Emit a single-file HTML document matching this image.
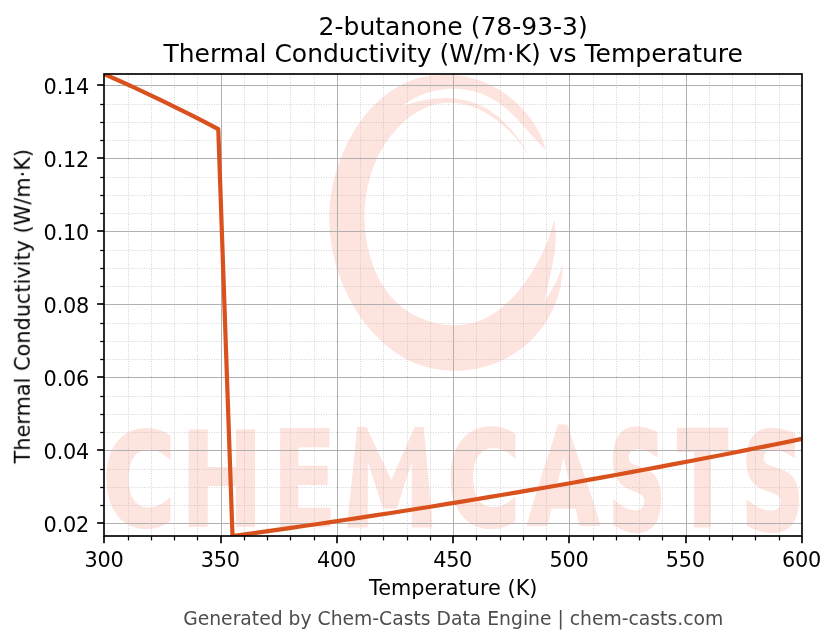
<!DOCTYPE html>
<html lang="en"><head><meta charset="utf-8"><title>2-butanone (78-93-3) Thermal Conductivity vs Temperature</title>
<style>html,body{margin:0;padding:0;background:#fff;overflow:hidden}svg{display:block}text{font-family:"DejaVu Sans","Liberation Sans",sans-serif;fill:#000}</style></head><body>
<svg width="836" height="644" viewBox="0 0 836 644">
<rect x="0" y="0" width="836" height="644" fill="#ffffff"/>
<defs><clipPath id="axclip"><rect x="104" y="74" width="698" height="462"/></clipPath></defs>
<g clip-path="url(#axclip)" fill="#fee4df" stroke="none">
<path d="M546.2,150.4 C545.1,147.5 542.2,138.6 539.5,133.1 C536.7,127.6 533.3,122.2 529.6,117.2 C525.8,112.2 521.5,107.5 516.9,103.2 C512.4,99.0 507.3,95.0 502.1,91.6 C496.9,88.2 491.3,85.2 485.5,82.8 C479.8,80.4 473.8,78.5 467.8,77.1 C461.7,75.8 455.5,75.0 449.4,74.7 C443.3,74.5 437.1,74.7 431.0,75.6 C425.0,76.4 419.0,77.8 413.4,79.8 C407.7,81.7 402.2,84.2 396.9,87.2 C391.7,90.2 386.8,93.8 382.1,97.7 C377.4,101.6 373.0,106.0 368.9,110.7 C364.8,115.3 361.0,120.4 357.5,125.6 C354.0,130.8 350.8,136.3 347.9,141.9 C345.1,147.5 342.5,153.4 340.3,159.2 C338.0,165.1 336.1,171.0 334.6,177.0 C333.0,182.9 331.8,189.0 330.9,195.1 C330.0,201.1 329.5,207.3 329.3,213.4 C329.2,219.6 329.3,225.8 329.9,232.0 C330.4,238.2 331.3,244.5 332.5,250.7 C333.7,256.9 335.3,263.1 337.2,269.2 C339.1,275.3 341.3,281.3 343.8,287.1 C346.4,293.0 349.2,298.7 352.3,304.2 C355.4,309.7 358.8,315.0 362.5,320.1 C366.2,325.1 370.1,329.9 374.4,334.3 C378.6,338.8 383.0,343.0 387.7,346.7 C392.4,350.5 397.4,353.9 402.5,356.9 C407.7,359.9 413.1,362.4 418.6,364.5 C424.2,366.5 430.1,368.1 436.0,369.1 C441.9,370.2 448.1,370.7 454.3,370.7 C460.4,370.7 466.7,370.2 472.8,369.2 C478.9,368.2 485.1,366.7 491.0,364.7 C496.9,362.7 502.8,360.2 508.2,357.2 C513.7,354.2 519.0,350.7 523.8,346.8 C528.7,342.9 533.2,338.4 537.2,333.6 C541.3,328.9 545.0,323.6 548.1,318.2 C551.3,312.8 554.0,307.0 556.2,301.2 C558.4,295.3 560.1,289.2 561.2,283.0 C562.3,276.9 562.6,267.6 562.9,264.5 C562.2,266.4 560.0,272.3 558.5,276.0 C557.0,279.7 555.9,282.5 553.6,286.8 C551.3,291.0 546.0,299.0 544.5,301.5 C544.9,299.6 546.1,293.9 546.9,290.0 C547.8,286.2 548.7,282.3 549.6,278.4 C550.5,274.5 551.4,270.6 552.2,266.6 C552.9,262.7 553.7,258.8 554.3,254.8 C554.8,250.9 555.3,247.0 555.5,243.1 C555.8,239.1 555.9,235.2 555.6,231.4 C555.4,227.5 554.4,221.7 554.2,219.8 C553.5,222.3 551.5,230.0 549.8,234.9 C548.1,239.9 546.2,244.9 544.0,249.7 C541.8,254.6 539.3,259.5 536.6,264.3 C533.9,269.0 531.0,273.9 527.8,278.5 C524.6,283.1 521.2,287.7 517.6,292.0 C513.9,296.3 510.0,300.4 505.9,304.1 C501.9,307.7 497.5,311.2 493.0,314.0 C488.5,316.8 483.7,319.3 478.8,321.1 C473.9,322.9 468.6,324.1 463.4,324.7 C458.2,325.3 452.7,325.4 447.4,324.9 C442.1,324.4 436.6,323.4 431.4,321.9 C426.3,320.4 421.1,318.4 416.3,316.0 C411.4,313.6 406.8,310.7 402.5,307.4 C398.3,304.2 394.4,300.5 390.9,296.5 C387.4,292.5 384.3,288.1 381.5,283.5 C378.8,278.9 376.4,273.9 374.3,268.9 C372.3,263.9 370.6,258.6 369.2,253.3 C367.7,248.0 366.7,242.5 365.9,237.1 C365.1,231.6 364.7,226.1 364.5,220.5 C364.4,215.0 364.5,209.5 365.0,204.0 C365.5,198.5 366.3,193.0 367.4,187.7 C368.5,182.3 369.9,177.0 371.6,171.8 C373.3,166.7 375.4,161.6 377.7,156.8 C380.1,151.9 382.7,147.2 385.7,142.7 C388.7,138.3 392.0,134.0 395.6,130.0 C399.2,126.0 403.1,122.2 407.3,118.8 C411.5,115.5 416.0,112.4 420.7,110.0 C425.3,107.6 430.3,105.6 435.4,104.4 C440.4,103.2 445.8,102.7 451.1,102.8 C456.3,102.9 461.7,103.6 466.9,105.0 C472.1,106.4 477.3,108.4 482.2,110.9 C487.2,113.4 491.9,116.5 496.4,119.9 C500.9,123.3 505.2,127.2 509.2,131.1 C513.2,135.0 516.9,139.3 520.4,143.5 C523.8,147.7 528.1,154.1 529.7,156.2 C528.2,153.8 523.9,146.4 520.6,141.8 C517.3,137.1 513.7,132.4 509.8,128.2 C506.0,124.0 501.9,119.9 497.5,116.3 C493.1,112.8 488.5,109.5 483.7,106.9 C478.8,104.4 473.6,102.3 468.3,100.9 C463.0,99.4 457.5,98.6 451.9,98.2 C446.3,97.9 440.5,98.1 434.8,98.6 C429.2,99.2 423.4,100.2 417.8,101.5 C412.2,102.8 404.0,105.6 401.3,106.4 C404.1,104.7 412.3,98.9 418.2,96.2 C424.0,93.6 430.2,91.6 436.4,90.4 C442.5,89.1 448.9,88.6 455.1,88.7 C461.3,88.9 467.6,89.7 473.6,91.3 C479.5,92.8 485.5,95.1 490.9,98.0 C496.4,100.9 501.5,104.7 506.4,108.8 C511.3,112.8 515.7,117.7 520.2,122.4 C524.7,127.1 528.8,132.3 533.2,137.0 C537.5,141.6 544.0,148.2 546.2,150.4 Z"/>
<clipPath id="wmclip"><rect x="100.0" y="400" width="247.0" height="140"/><polygon points="347,528 357.5,424 365,424 391.3,480 416,424 423.5,424 433,528"/><rect x="433.0" y="400" width="92.0" height="140"/><polygon points="525,528 558.2,424 567,424 602,528"/><rect x="602.0" y="400" width="208.0" height="140"/></clipPath>
<g clip-path="url(#wmclip)"><text font-weight="bold" style="fill:#fee4df"><tspan x="103.10" y="525.17" font-size="129.16" textLength="72.19" lengthAdjust="spacingAndGlyphs" stroke="#fee4df" stroke-width="4">C</tspan><tspan x="179.16" y="526.60" font-size="134.43" textLength="85.19" lengthAdjust="spacingAndGlyphs">H</tspan><tspan x="271.29" y="527.20" font-size="135.53" textLength="66.32" lengthAdjust="spacingAndGlyphs">E</tspan><tspan x="339.16" y="525.50" font-size="134.43" textLength="101.23" lengthAdjust="spacingAndGlyphs" stroke="#fee4df" stroke-width="3">M</tspan><tspan x="447.34" y="524.96" font-size="129.30" textLength="73.02" lengthAdjust="spacingAndGlyphs" stroke="#fee4df" stroke-width="4">C</tspan><tspan x="528.76" y="524.40" font-size="131.96" textLength="69.58" lengthAdjust="spacingAndGlyphs" stroke="#fee4df" stroke-width="5">A</tspan><tspan x="608.26" y="528.59" font-size="134.58" textLength="57.60" lengthAdjust="spacingAndGlyphs" stroke="#fee4df" stroke-width="4">S</tspan><tspan x="678.15" y="524.20" font-size="127.57" textLength="48.73" lengthAdjust="spacingAndGlyphs" stroke="#fee4df" stroke-width="6">T</tspan><tspan x="741.15" y="528.59" font-size="134.19" textLength="62.73" lengthAdjust="spacingAndGlyphs" stroke="#fee4df" stroke-width="4">S</tspan></text></g>
</g>
<g stroke="#b0b0b0" stroke-opacity="0.6" stroke-width="1" stroke-dasharray="0.94 1.55" fill="none">
<line x1="128.5" y1="536.3" x2="128.5" y2="74.0"/>
<line x1="151.5" y1="536.3" x2="151.5" y2="74.0"/>
<line x1="174.5" y1="536.3" x2="174.5" y2="74.0"/>
<line x1="197.5" y1="536.3" x2="197.5" y2="74.0"/>
<line x1="244.5" y1="536.3" x2="244.5" y2="74.0"/>
<line x1="267.5" y1="536.3" x2="267.5" y2="74.0"/>
<line x1="290.5" y1="536.3" x2="290.5" y2="74.0"/>
<line x1="314.5" y1="536.3" x2="314.5" y2="74.0"/>
<line x1="360.5" y1="536.3" x2="360.5" y2="74.0"/>
<line x1="383.5" y1="536.3" x2="383.5" y2="74.0"/>
<line x1="407.5" y1="536.3" x2="407.5" y2="74.0"/>
<line x1="430.5" y1="536.3" x2="430.5" y2="74.0"/>
<line x1="476.5" y1="536.3" x2="476.5" y2="74.0"/>
<line x1="500.5" y1="536.3" x2="500.5" y2="74.0"/>
<line x1="523.5" y1="536.3" x2="523.5" y2="74.0"/>
<line x1="546.5" y1="536.3" x2="546.5" y2="74.0"/>
<line x1="593.5" y1="536.3" x2="593.5" y2="74.0"/>
<line x1="616.5" y1="536.3" x2="616.5" y2="74.0"/>
<line x1="639.5" y1="536.3" x2="639.5" y2="74.0"/>
<line x1="662.5" y1="536.3" x2="662.5" y2="74.0"/>
<line x1="709.5" y1="536.3" x2="709.5" y2="74.0"/>
<line x1="732.5" y1="536.3" x2="732.5" y2="74.0"/>
<line x1="755.5" y1="536.3" x2="755.5" y2="74.0"/>
<line x1="779.5" y1="536.3" x2="779.5" y2="74.0"/>
<line x1="104.4" y1="505.5" x2="801.9" y2="505.5"/>
<line x1="104.4" y1="487.5" x2="801.9" y2="487.5"/>
<line x1="104.4" y1="469.5" x2="801.9" y2="469.5"/>
<line x1="104.4" y1="432.5" x2="801.9" y2="432.5"/>
<line x1="104.4" y1="414.5" x2="801.9" y2="414.5"/>
<line x1="104.4" y1="396.5" x2="801.9" y2="396.5"/>
<line x1="104.4" y1="359.5" x2="801.9" y2="359.5"/>
<line x1="104.4" y1="341.5" x2="801.9" y2="341.5"/>
<line x1="104.4" y1="323.5" x2="801.9" y2="323.5"/>
<line x1="104.4" y1="286.5" x2="801.9" y2="286.5"/>
<line x1="104.4" y1="268.5" x2="801.9" y2="268.5"/>
<line x1="104.4" y1="250.5" x2="801.9" y2="250.5"/>
<line x1="104.4" y1="213.5" x2="801.9" y2="213.5"/>
<line x1="104.4" y1="195.5" x2="801.9" y2="195.5"/>
<line x1="104.4" y1="177.5" x2="801.9" y2="177.5"/>
<line x1="104.4" y1="140.5" x2="801.9" y2="140.5"/>
<line x1="104.4" y1="122.5" x2="801.9" y2="122.5"/>
<line x1="104.4" y1="104.5" x2="801.9" y2="104.5"/>
</g>
<g shape-rendering="crispEdges" stroke="#b0b0b0" stroke-width="1" fill="none">
<line x1="221.5" y1="74.0" x2="221.5" y2="536.0"/>
<line x1="337.5" y1="74.0" x2="337.5" y2="536.0"/>
<line x1="453.5" y1="74.0" x2="453.5" y2="536.0"/>
<line x1="569.5" y1="74.0" x2="569.5" y2="536.0"/>
<line x1="686.5" y1="74.0" x2="686.5" y2="536.0"/>
<line x1="104.4" y1="523.5" x2="801.9" y2="523.5"/>
<line x1="104.4" y1="450.5" x2="801.9" y2="450.5"/>
<line x1="104.4" y1="377.5" x2="801.9" y2="377.5"/>
<line x1="104.4" y1="304.5" x2="801.9" y2="304.5"/>
<line x1="104.4" y1="231.5" x2="801.9" y2="231.5"/>
<line x1="104.4" y1="158.5" x2="801.9" y2="158.5"/>
<line x1="104.4" y1="85.5" x2="801.9" y2="85.5"/>
</g>
<path d="M104.40,74.25 L118.63,80.52 L132.87,86.96 L147.10,93.57 L161.34,100.35 L175.57,107.30 L189.81,114.43 L204.04,121.73 L218.28,129.19 L232.51,536.04 L246.75,534.09 L260.98,532.11 L275.22,530.11 L289.45,528.08 L303.69,526.03 L317.92,523.96 L332.16,521.86 L346.39,519.74 L360.62,517.59 L374.86,515.42 L389.09,513.22 L403.33,511.00 L417.56,508.76 L431.80,506.49 L446.03,504.19 L460.27,501.87 L474.50,499.53 L488.74,497.16 L502.97,494.77 L517.21,492.36 L531.44,489.92 L545.68,487.45 L559.91,484.96 L574.14,482.45 L588.38,479.91 L602.61,477.35 L616.85,474.76 L631.08,472.15 L645.32,469.52 L659.55,466.86 L673.79,464.17 L688.02,461.46 L702.26,458.73 L716.49,455.97 L730.73,453.19 L744.96,450.39 L759.20,447.55 L773.43,444.70 L787.67,441.82 L801.90,438.92" fill="none" stroke="#d9521e" stroke-width="4.2" stroke-linejoin="round" stroke-linecap="butt" clip-path="url(#axclip)"/>
<g stroke="#000" fill="none">
<line x1="104" y1="536.0" x2="104" y2="543.3" stroke-width="1.67"/>
<line x1="128.5" y1="536.0" x2="128.5" y2="540.4" stroke-width="1.25"/>
<line x1="151.5" y1="536.0" x2="151.5" y2="540.4" stroke-width="1.25"/>
<line x1="174.5" y1="536.0" x2="174.5" y2="540.4" stroke-width="1.25"/>
<line x1="197.5" y1="536.0" x2="197.5" y2="540.4" stroke-width="1.25"/>
<line x1="221" y1="536.0" x2="221" y2="543.3" stroke-width="1.67"/>
<line x1="244.5" y1="536.0" x2="244.5" y2="540.4" stroke-width="1.25"/>
<line x1="267.5" y1="536.0" x2="267.5" y2="540.4" stroke-width="1.25"/>
<line x1="290.5" y1="536.0" x2="290.5" y2="540.4" stroke-width="1.25"/>
<line x1="314.5" y1="536.0" x2="314.5" y2="540.4" stroke-width="1.25"/>
<line x1="337" y1="536.0" x2="337" y2="543.3" stroke-width="1.67"/>
<line x1="360.5" y1="536.0" x2="360.5" y2="540.4" stroke-width="1.25"/>
<line x1="383.5" y1="536.0" x2="383.5" y2="540.4" stroke-width="1.25"/>
<line x1="407.5" y1="536.0" x2="407.5" y2="540.4" stroke-width="1.25"/>
<line x1="430.5" y1="536.0" x2="430.5" y2="540.4" stroke-width="1.25"/>
<line x1="453" y1="536.0" x2="453" y2="543.3" stroke-width="1.67"/>
<line x1="476.5" y1="536.0" x2="476.5" y2="540.4" stroke-width="1.25"/>
<line x1="500.5" y1="536.0" x2="500.5" y2="540.4" stroke-width="1.25"/>
<line x1="523.5" y1="536.0" x2="523.5" y2="540.4" stroke-width="1.25"/>
<line x1="546.5" y1="536.0" x2="546.5" y2="540.4" stroke-width="1.25"/>
<line x1="569" y1="536.0" x2="569" y2="543.3" stroke-width="1.67"/>
<line x1="593.5" y1="536.0" x2="593.5" y2="540.4" stroke-width="1.25"/>
<line x1="616.5" y1="536.0" x2="616.5" y2="540.4" stroke-width="1.25"/>
<line x1="639.5" y1="536.0" x2="639.5" y2="540.4" stroke-width="1.25"/>
<line x1="662.5" y1="536.0" x2="662.5" y2="540.4" stroke-width="1.25"/>
<line x1="686" y1="536.0" x2="686" y2="543.3" stroke-width="1.67"/>
<line x1="709.5" y1="536.0" x2="709.5" y2="540.4" stroke-width="1.25"/>
<line x1="732.5" y1="536.0" x2="732.5" y2="540.4" stroke-width="1.25"/>
<line x1="755.5" y1="536.0" x2="755.5" y2="540.4" stroke-width="1.25"/>
<line x1="779.5" y1="536.0" x2="779.5" y2="540.4" stroke-width="1.25"/>
<line x1="802" y1="536.0" x2="802" y2="543.3" stroke-width="1.67"/>
<line x1="104" y1="523" x2="97.1" y2="523" stroke-width="1.67"/>
<line x1="104" y1="505.5" x2="100.2" y2="505.5" stroke-width="1.25"/>
<line x1="104" y1="487.5" x2="100.2" y2="487.5" stroke-width="1.25"/>
<line x1="104" y1="469.5" x2="100.2" y2="469.5" stroke-width="1.25"/>
<line x1="104" y1="450" x2="97.1" y2="450" stroke-width="1.67"/>
<line x1="104" y1="432.5" x2="100.2" y2="432.5" stroke-width="1.25"/>
<line x1="104" y1="414.5" x2="100.2" y2="414.5" stroke-width="1.25"/>
<line x1="104" y1="396.5" x2="100.2" y2="396.5" stroke-width="1.25"/>
<line x1="104" y1="377" x2="97.1" y2="377" stroke-width="1.67"/>
<line x1="104" y1="359.5" x2="100.2" y2="359.5" stroke-width="1.25"/>
<line x1="104" y1="341.5" x2="100.2" y2="341.5" stroke-width="1.25"/>
<line x1="104" y1="323.5" x2="100.2" y2="323.5" stroke-width="1.25"/>
<line x1="104" y1="304" x2="97.1" y2="304" stroke-width="1.67"/>
<line x1="104" y1="286.5" x2="100.2" y2="286.5" stroke-width="1.25"/>
<line x1="104" y1="268.5" x2="100.2" y2="268.5" stroke-width="1.25"/>
<line x1="104" y1="250.5" x2="100.2" y2="250.5" stroke-width="1.25"/>
<line x1="104" y1="231" x2="97.1" y2="231" stroke-width="1.67"/>
<line x1="104" y1="213.5" x2="100.2" y2="213.5" stroke-width="1.25"/>
<line x1="104" y1="195.5" x2="100.2" y2="195.5" stroke-width="1.25"/>
<line x1="104" y1="177.5" x2="100.2" y2="177.5" stroke-width="1.25"/>
<line x1="104" y1="158" x2="97.1" y2="158" stroke-width="1.67"/>
<line x1="104" y1="140.5" x2="100.2" y2="140.5" stroke-width="1.25"/>
<line x1="104" y1="122.5" x2="100.2" y2="122.5" stroke-width="1.25"/>
<line x1="104" y1="104.5" x2="100.2" y2="104.5" stroke-width="1.25"/>
<line x1="104" y1="85" x2="97.1" y2="85" stroke-width="1.67"/>
</g>
<rect x="104" y="74" width="698" height="462" fill="none" stroke="#000" stroke-width="1.67" stroke-linejoin="miter"/>
<g opacity="0.999">
<text x="453.2" y="34.7" font-size="25" text-anchor="middle">2-butanone (78-93-3)</text>
<text x="453.2" y="61.9" font-size="25" text-anchor="middle">Thermal Conductivity (W/m·K) vs Temperature</text>
<text x="104.1" y="567" font-size="20.83" text-anchor="middle" textLength="39.1" lengthAdjust="spacing">300</text>
<text x="220.4" y="567" font-size="20.83" text-anchor="middle" textLength="39.1" lengthAdjust="spacing">350</text>
<text x="336.6" y="567" font-size="20.83" text-anchor="middle" textLength="39.1" lengthAdjust="spacing">400</text>
<text x="452.8" y="567" font-size="20.83" text-anchor="middle" textLength="39.1" lengthAdjust="spacing">450</text>
<text x="569.1" y="567" font-size="20.83" text-anchor="middle" textLength="39.1" lengthAdjust="spacing">500</text>
<text x="685.4" y="567" font-size="20.83" text-anchor="middle" textLength="39.1" lengthAdjust="spacing">550</text>
<text x="801.6" y="567" font-size="20.83" text-anchor="middle" textLength="39.1" lengthAdjust="spacing">600</text>
<text x="89.3" y="531.5" font-size="20.83" text-anchor="end" textLength="45.7" lengthAdjust="spacing">0.02</text>
<text x="89.3" y="458.5" font-size="20.83" text-anchor="end" textLength="45.7" lengthAdjust="spacing">0.04</text>
<text x="89.3" y="385.5" font-size="20.83" text-anchor="end" textLength="45.7" lengthAdjust="spacing">0.06</text>
<text x="89.3" y="312.5" font-size="20.83" text-anchor="end" textLength="45.7" lengthAdjust="spacing">0.08</text>
<text x="89.3" y="239.5" font-size="20.83" text-anchor="end" textLength="45.7" lengthAdjust="spacing">0.10</text>
<text x="89.3" y="166.5" font-size="20.83" text-anchor="end" textLength="45.7" lengthAdjust="spacing">0.12</text>
<text x="89.3" y="93.5" font-size="20.83" text-anchor="end" textLength="45.7" lengthAdjust="spacing">0.14</text>
<text x="453.2" y="594.9" font-size="20.83" text-anchor="middle">Temperature (K)</text>
<text transform="translate(29.8,306.2) rotate(-90)" font-size="20.83" text-anchor="middle">Thermal Conductivity (W/m·K)</text>
<text x="453.2" y="625.4" font-size="18.75" text-anchor="middle" style="fill:#4d4d4d">Generated by Chem-Casts Data Engine | chem-casts.com</text>
</g>
</svg></body></html>
